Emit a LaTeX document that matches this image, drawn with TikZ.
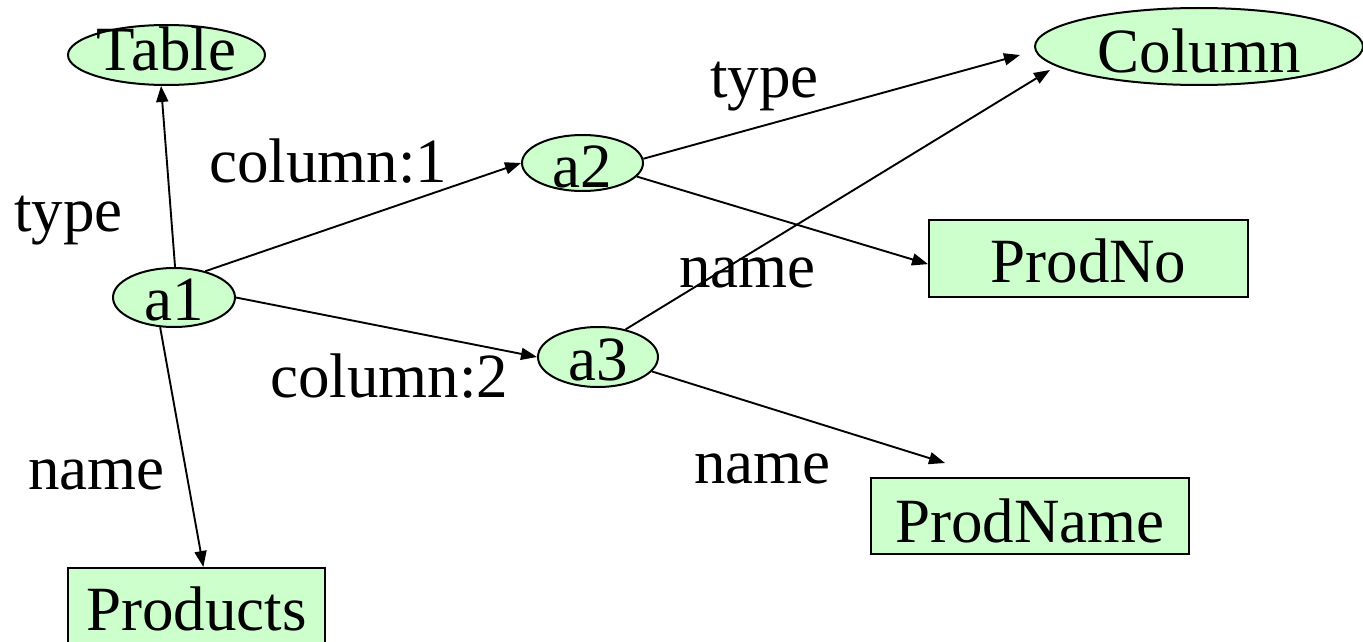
\documentclass[tikz,border=0pt]{standalone}
\usepackage{fontspec}
\setmainfont{Liberation Serif}
\usetikzlibrary{arrows.meta,shapes.geometric}
\definecolor{nodegreen}{RGB}{204,255,204}
\newcommand{\shtext}[2]{\raisebox{-#1pt}[0pt][0pt]{\makebox[0pt]{#2}}}
\begin{document}
\begin{tikzpicture}[x=1pt,y=-1pt,
  every node/.style={font=\fontsize{63}{72}\selectfont},
  ell/.style={ellipse,draw=black,line width=2pt,fill=nodegreen,inner sep=0pt},
  box/.style={rectangle,draw=black,line width=2pt,fill=nodegreen,inner sep=0pt},
  lab/.style={anchor=base west,inner sep=0pt},
  conn/.style={line width=1.9pt,-{Triangle[length=16pt,width=12pt]}}]
\useasboundingbox (0,0) rectangle (1363,642);
% nodes
\node[ell,minimum width=197pt,minimum height=60pt] (tbl) at (166.5,55) {\shtext{16}{Table}};
\node[ell,minimum width=328pt,minimum height=77pt] (col) at (1199,46.5) {\shtext{26}{Column}};
\node[ell,minimum width=122pt,minimum height=59pt] (a1) at (174,297.5) {\shtext{22.5}{a1}};
\node[ell,minimum width=121pt,minimum height=56pt] (a2) at (582.5,163) {\shtext{24}{a2}};
\node[ell,minimum width=120pt,minimum height=60pt] (a3) at (598,357) {\shtext{23}{a3}};
\node[box,minimum width=319pt,minimum height=77pt] (pno) at (1088.5,258.5) {\shtext{23.5}{ProdNo}};
\node[box,minimum width=318pt,minimum height=76pt] (pnm) at (1030,516) {\shtext{26}{ProdName}};
\node[box,minimum width=257pt,minimum height=76pt] (prod) at (196.5,606) {\shtext{24}{Products}};
% free connector ends
\coordinate (colin1) at (1020,55);
\coordinate (colin2) at (1050,70);
\coordinate (pnmin) at (945,463);
% connectors
\draw[conn] (a1.88) -- (tbl.260);
\draw[conn] (a1.40) -- (a2.west);
\draw[conn] (a1.east) -- (a3.west);
\draw[conn] (a1.245) -- (prod.80);
\draw[conn] (a2.4) -- (colin1);
\draw[conn] (a2.-14) -- (pno.182);
\draw[conn] (a3.45) -- (colin2);
\draw[conn] (a3.-15) -- (pnmin);
% edge labels
\node[lab] (ltype1) at (14,231) {type};
\node[lab] (lcol1) at (209,182) {column:1};
\node[lab] (lcol2) at (270,397) {column:2};
\node[lab] (lname1) at (28,489) {name};
\node[lab] (ltype2) at (710,97) {type};
\node[lab] (lname2) at (679,287) {name};
\node[lab] (lname3) at (694,483) {name};
\end{tikzpicture}
\end{document}
